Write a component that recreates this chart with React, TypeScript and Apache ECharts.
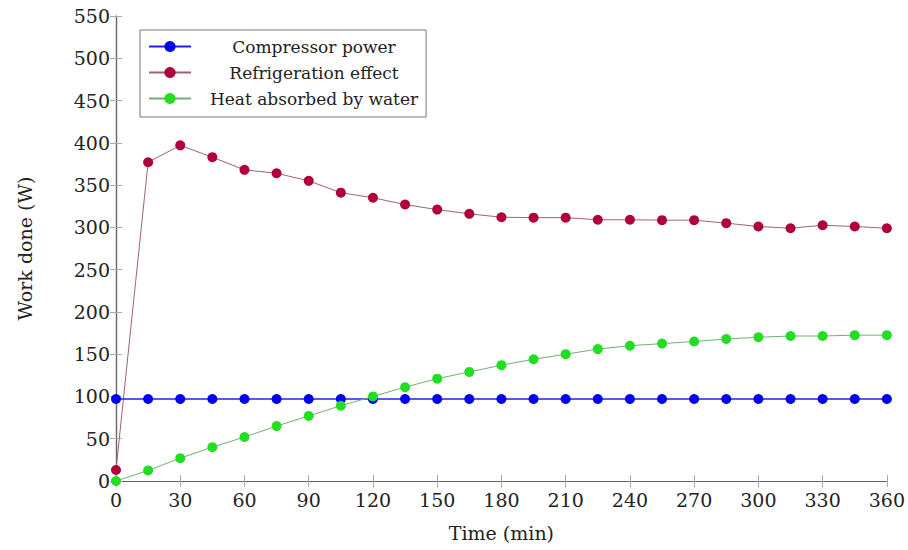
import React, { useEffect, useRef } from "react";
import * as echarts from "echarts";

const times = [0, 15, 30, 45, 60, 75, 90, 105, 120, 135, 150, 165, 180, 195, 210, 225, 240, 255, 270, 285, 300, 315, 330, 345, 360];
const compressorPower = [97, 97, 97, 97, 97, 97, 97, 97, 97, 97, 97, 97, 97, 97, 97, 97, 97, 97, 97, 97, 97, 97, 97, 97, 97];
const refrigerationEffect = [13, 377, 397, 383, 368, 364, 355, 341, 335, 327, 321, 316, 312, 311.5, 311.5, 309, 309, 308.5, 308.5, 305, 301, 299, 302.5, 301, 299];
const heatAbsorbed = [0, 12.5, 27, 40, 52, 65, 77, 89, 100, 111, 121, 129, 137, 144, 150, 156, 160, 162.5, 165, 168, 170, 171.5, 171.5, 172.5, 172.5];
const seriesNames = ["Compressor power", "Refrigeration effect", "Heat absorbed by water"];
const xTitle = "Time (min)";
const yTitle = "Work done (W)";

const FONT = "DejaVu Serif";

export default function App() {
  const ref = useRef<HTMLDivElement>(null);
  useEffect(() => {
    if (!ref.current) return;
    const chart = echarts.init(ref.current, null, { renderer: "svg" });
    const axisLine = { show: true, lineStyle: { color: "#666", width: 1.2 } };
    const tick = { show: true, inside: true, length: 6, lineStyle: { color: "#aaa", width: 1 } };
    const mk = (data: number[]) => times.map((t, i) => [t, data[i]]);
    chart.setOption({
      animation: false,
      backgroundColor: "#fff",
      grid: { left: 116, right: 21, top: 16, bottom: 69, containLabel: false },
      legend: {
        orient: "vertical",
        left: 140,
        top: 30,
        padding: [8, 8, 10, 8],
        itemGap: 9,
        itemWidth: 42,
        itemHeight: 14,
        backgroundColor: "#fff",
        borderColor: "#777",
        borderWidth: 1,
        borderRadius: 0,
        formatter: (n: string) => "{c|" + n + "}",
        textStyle: {
          fontFamily: FONT,
          fontSize: 17,
          color: "#222",
          width: 236,
          rich: { c: { align: "center", fontFamily: FONT, fontSize: 17, color: "#222" } },
        },
        data: seriesNames,
      },
      xAxis: [
        {
          type: "value",
          min: 0,
          max: 360,
          interval: 30,
          name: xTitle,
          nameLocation: "middle",
          nameGap: 42,
          nameTextStyle: { fontFamily: FONT, fontSize: 19, color: "#222" },
          axisLine,
          axisTick: tick,
          splitLine: { show: false },
          axisLabel: { fontFamily: FONT, fontSize: 19, color: "#222", margin: 9 },
        },
        {
          type: "value",
          position: "top",
          min: 0,
          max: 360,
          interval: 30,
          axisLine,
          axisTick: tick,
          splitLine: { show: false },
          axisLabel: { show: false },
        },
      ],
      yAxis: [
        {
          type: "value",
          min: 0,
          max: 550,
          interval: 50,
          name: yTitle,
          nameLocation: "middle",
          nameGap: 82,
          nameTextStyle: { fontFamily: FONT, fontSize: 19, color: "#222" },
          axisLine,
          axisTick: tick,
          splitLine: { show: false },
          axisLabel: { fontFamily: FONT, fontSize: 19, color: "#222", margin: 6 },
        },
        {
          type: "value",
          position: "right",
          min: 0,
          max: 550,
          interval: 50,
          axisLine,
          axisTick: tick,
          splitLine: { show: false },
          axisLabel: { show: false },
        },
      ],
      series: [
        {
          name: seriesNames[0],
          type: "line",
          data: mk(compressorPower),
          symbol: "circle",
          symbolSize: 10,
          itemStyle: { color: "#0000ee" },
          lineStyle: { color: "#2020ee", width: 1.5 },
          z: 3,
        },
        {
          name: seriesNames[1],
          type: "line",
          data: mk(refrigerationEffect),
          symbol: "circle",
          symbolSize: 10,
          itemStyle: { color: "#b0003a" },
          lineStyle: { color: "#a06078", width: 1 },
          z: 2,
        },
        {
          name: seriesNames[2],
          type: "line",
          data: mk(heatAbsorbed),
          symbol: "circle",
          symbolSize: 10,
          itemStyle: { color: "#22dd22" },
          lineStyle: { color: "#70b070", width: 1 },
          z: 4,
        },
      ],
    });
    return () => chart.dispose();
  }, []);
  return <div ref={ref} style={{ width: 908, height: 550, position: "absolute", left: 0, top: 0 }} />;
}
